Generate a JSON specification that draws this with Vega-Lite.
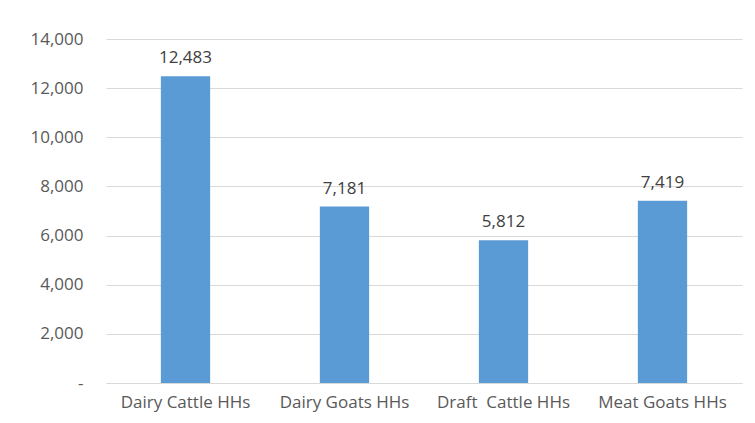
{
  "$schema": "https://vega.github.io/schema/vega-lite/v6.json",
  "width": 636,
  "height": 344,
  "autosize": {"type": "none"},
  "padding": {"left": 106, "top": 39, "right": 13, "bottom": 40},
  "background": "white",
  "config": {"view": {"stroke": null}, "font": "Open Sans"},
  "data": {"values": [
    {"category": "Dairy Cattle HHs", "value": 12483},
    {"category": "Dairy Goats HHs", "value": 7181},
    {"category": "Draft\u00a0 Cattle HHs", "value": 5812},
    {"category": "Meat Goats HHs", "value": 7419}
  ]},
  "encoding": {
    "x": {"field": "category", "type": "nominal", "sort": null,
      "scale": {"paddingInner": 0.69, "paddingOuter": 0.345},
      "axis": {"title": null, "labelAngle": 0, "ticks": false, "domain": true, "domainColor": "#D9D9D9",
        "labelFontSize": 17, "labelColor": "#595959", "labelPadding": 11, "labelFont": "Open Sans"}},
    "y": {"field": "value", "type": "quantitative",
      "scale": {"domain": [0, 14000], "nice": false},
      "axis": {"title": null, "values": [0,2000,4000,6000,8000,10000,12000,14000], "ticks": false, "domain": false,
        "gridColor": "#D9D9D9", "labelFontSize": 17, "labelColor": "#595959", "labelPadding": 23,
        "labelExpr": "datum.value == 0 ? '-\u2007' : format(datum.value, ',')"}}
  },
  "layer": [
    {"mark": {"type": "bar", "color": "#5B9BD5"}},
    {"mark": {"type": "text", "baseline": "bottom", "dy": -9, "fontSize": 17, "color": "#404040"},
     "encoding": {"text": {"field": "value", "type": "quantitative", "format": ","}}}
  ]
}
